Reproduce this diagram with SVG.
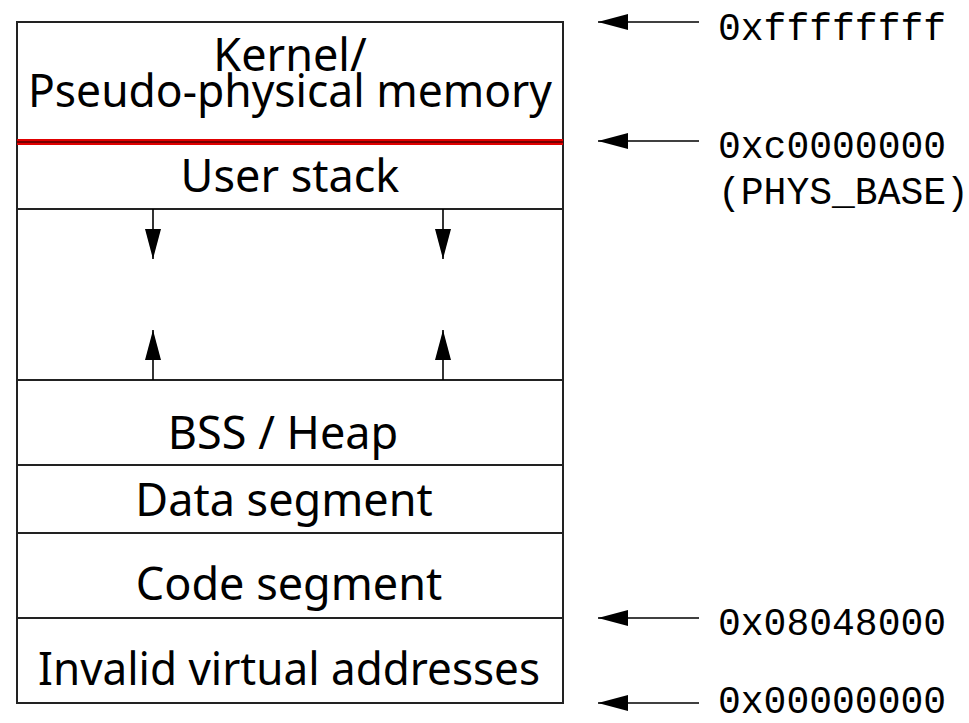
<svg xmlns="http://www.w3.org/2000/svg" width="969" height="723" viewBox="0 0 969 723">
<defs>
<style>
.seg{fill:#fff;stroke:#222;stroke-width:2}
.lbl{font-family:"Noto Sans","Open Sans","Liberation Sans",sans-serif;font-size:45px;fill:#000;text-anchor:middle}
.addr{font-family:"Liberation Mono","DejaVu Sans Mono",monospace;font-size:38px;fill:#000}
.conn{stroke:#000;stroke-width:1.6;fill:none}
.head{fill:#000;stroke:none}
</style>
<marker id="ah" viewBox="0 0 30 16" refX="30" refY="8" markerWidth="30" markerHeight="16" markerUnits="userSpaceOnUse" orient="auto">
<path d="M0,0 L30,8 L0,16 Z" class="head"/>
</marker>
</defs>
<rect width="969" height="723" fill="#fff"/>

<g id="kernel">
<rect class="seg" x="17" y="22" width="546" height="120"/>
<text class="lbl" x="290" y="71">Kernel/</text>
<text class="lbl" x="290" y="107" textLength="524" lengthAdjust="spacingAndGlyphs">Pseudo-physical memory</text>
</g>
<g id="user-stack">
<rect class="seg" x="17" y="142" width="546" height="67"/>
<text class="lbl" x="290" y="192">User stack</text>
</g>
<g id="free-space">
<rect class="seg" x="17" y="209" width="546" height="171"/>
</g>
<g id="bss-heap">
<rect class="seg" x="17" y="380" width="546" height="85"/>
<text class="lbl" x="283" y="449">BSS / Heap</text>
</g>
<g id="data-segment">
<rect class="seg" x="17" y="465" width="546" height="68"/>
<text class="lbl" x="284" y="516">Data segment</text>
</g>
<g id="code-segment">
<rect class="seg" x="17" y="533" width="546" height="85"/>
<text class="lbl" x="289" y="600">Code segment</text>
</g>
<g id="invalid">
<rect class="seg" x="17" y="618" width="546" height="85"/>
<text class="lbl" x="289" y="685" textLength="502" lengthAdjust="spacingAndGlyphs">Invalid virtual addresses</text>
</g>
<g id="phys-base-line">
<line x1="17" y1="142" x2="563" y2="142" stroke="#e00000" stroke-width="6"/>
<line x1="17" y1="142" x2="563" y2="142" stroke="#500" stroke-width="1.4"/>
</g>

<g id="addr-ffffffff">
<text class="addr" x="718" y="40">0xffffffff</text>
</g>
<g id="addr-c0000000">
<text class="addr" x="718" y="158">0xc0000000</text>
<text class="addr" x="718" y="204">(PHYS_BASE)</text>
</g>
<g id="addr-08048000">
<text class="addr" x="718" y="635">0x08048000</text>
</g>
<g id="addr-00000000">
<text class="addr" x="718" y="713">0x00000000</text>
</g>

<g id="connectors">
<line class="conn" x1="153" y1="209" x2="153" y2="259" marker-end="url(#ah)"/>
<line class="conn" x1="443" y1="209" x2="443" y2="259" marker-end="url(#ah)"/>
<line class="conn" x1="153" y1="380" x2="153" y2="330" marker-end="url(#ah)"/>
<line class="conn" x1="443" y1="380" x2="443" y2="330" marker-end="url(#ah)"/>
<line class="conn" x1="699" y1="22" x2="598" y2="22" marker-end="url(#ah)"/>
<line class="conn" x1="699" y1="141" x2="598" y2="141" marker-end="url(#ah)"/>
<line class="conn" x1="699" y1="618" x2="598" y2="618" marker-end="url(#ah)"/>
<line class="conn" x1="699" y1="703" x2="598" y2="703" marker-end="url(#ah)"/>
</g>
</svg>
